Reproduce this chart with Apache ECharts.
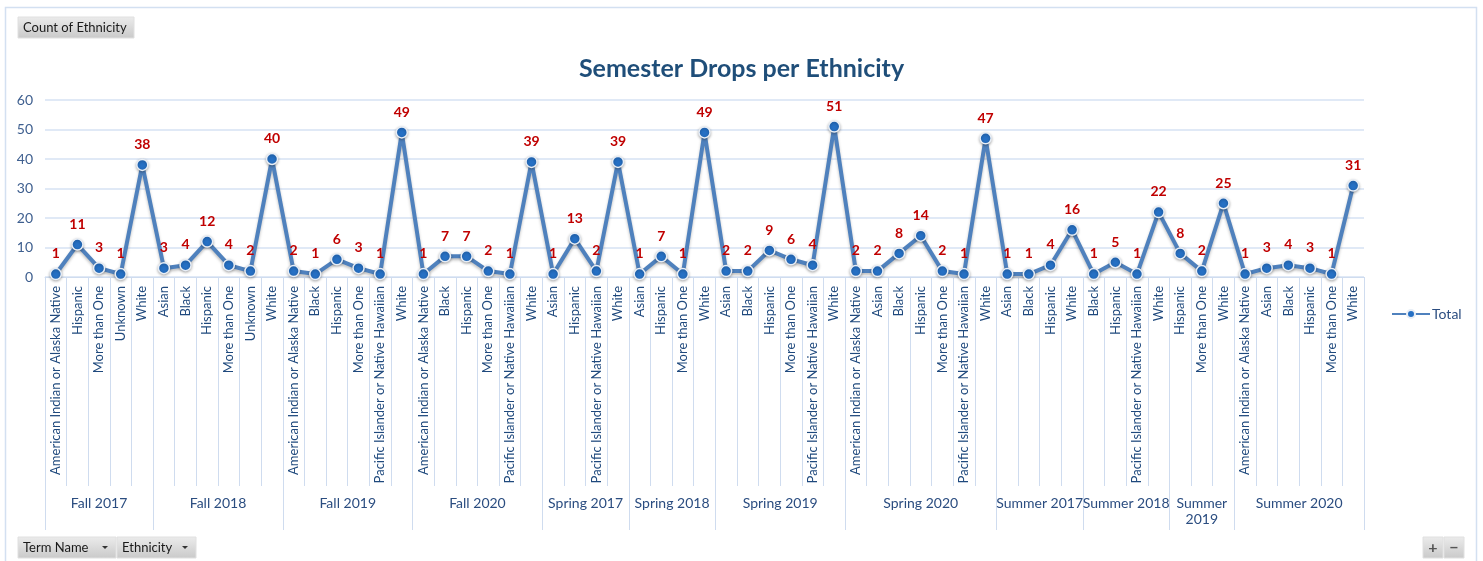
<!DOCTYPE html>
<html>
<head>
<meta charset="utf-8">
<script src="https://cdn.jsdelivr.net/npm/echarts@6/dist/echarts.min.js"></script>
<style>
html,body{margin:0;padding:0;background:#fff;}
#chart{width:1483px;height:561px;}
</style>
</head>
<body>
<div id="chart"></div>
<script>
// term groups along the bottom axis
const termNames = ['Fall 2017', 'Fall 2018', 'Fall 2019', 'Fall 2020', 'Spring 2017', 'Spring 2018',
    'Spring 2019', 'Spring 2020', 'Summer 2017', 'Summer 2018', 'Summer 2019', 'Summer 2020'];
const termSizes = [5, 6, 6, 6, 4, 4, 6, 7, 4, 4, 3, 6];

// ethnicity per point (grouped by term, same order as termNames)
const ethnicityLabels = [
    'American Indian or Alaska Native', 'Hispanic', 'More than One', 'Unknown', 'White',
    'Asian', 'Black', 'Hispanic', 'More than One', 'Unknown', 'White',
    'American Indian or Alaska Native', 'Black', 'Hispanic', 'More than One', 'Pacific Islander or Native Hawaiian', 'White',
    'American Indian or Alaska Native', 'Black', 'Hispanic', 'More than One', 'Pacific Islander or Native Hawaiian', 'White',
    'Asian', 'Hispanic', 'Pacific Islander or Native Hawaiian', 'White',
    'Asian', 'Hispanic', 'More than One', 'White',
    'Asian', 'Black', 'Hispanic', 'More than One', 'Pacific Islander or Native Hawaiian', 'White',
    'American Indian or Alaska Native', 'Asian', 'Black', 'Hispanic', 'More than One', 'Pacific Islander or Native Hawaiian', 'White',
    'Asian', 'Black', 'Hispanic', 'White',
    'Black', 'Hispanic', 'Pacific Islander or Native Hawaiian', 'White',
    'Hispanic', 'More than One', 'White',
    'American Indian or Alaska Native', 'Asian', 'Black', 'Hispanic', 'More than One', 'White'
];
const dropCounts = [
    1, 11, 3, 1, 38,
    3, 4, 12, 4, 2, 40,
    2, 1, 6, 3, 1, 49,
    1, 7, 7, 2, 1, 39,
    1, 13, 2, 39,
    1, 7, 1, 49,
    2, 2, 9, 6, 4, 51,
    2, 2, 8, 14, 2, 1, 47,
    1, 1, 4, 16,
    1, 5, 1, 22,
    8, 2, 25,
    1, 3, 4, 3, 1, 31
];
const yMin = 0, yMax = 60, yStep = 10;

// boundaries and centers of the term groups on a 0..n scale
let bounds = [0], centers = [];
termSizes.forEach(function(n){
    let start = bounds[bounds.length - 1];
    centers.push(start + n / 2);
    bounds.push(start + n);
});

const font = 'Lato, "Liberation Sans", sans-serif';
const sepColor = '#cfdcef';

let chart = echarts.init(document.getElementById('chart'));

function button(x, y, w, label, arrow, size){
    let kids = [{
        type: 'rect',
        shape: {x: 0, y: 0, width: w, height: 21},
        style: {
            fill: new echarts.graphic.LinearGradient(0, 0, 0, 1, [
                {offset: 0, color: '#ececec'}, {offset: 1, color: '#c9c9c9'}
            ]),
            stroke: '#e0e0e0', lineWidth: 1
        }
    }, {
        type: 'text',
        style: {
            x: size ? w / 2 : 5, y: 11, text: label,
            fill: size ? '#555' : '#1a1a1a',
            font: (size ? 'bold ' + size : '13') + 'px ' + font,
            align: size ? 'center' : 'left', verticalAlign: 'middle'
        }
    }];
    if(arrow){
        kids.push({
            type: 'polygon',
            shape: {points: [[w - 14, 9], [w - 8, 9], [w - 11, 12]]},
            style: {fill: '#333'}
        });
    }
    return {type: 'group', x: x, y: y, children: kids};
}

let options = {
    animation: false,
    title: {
        text: 'Semester Drops per Ethnicity',
        left: 'center',
        top: 51,
        textStyle: {fontFamily: font, fontSize: 25, fontWeight: 'bold', color: '#1f4e79'}
    },
    legend: {
        left: 1386,
        top: 302,
        itemWidth: 38,
        itemHeight: 10,
        itemGap: 2,
        textStyle: {fontFamily: font, fontSize: 14, color: '#2b4d80', padding: [0, 0, 0, -3]},
        data: ['Total']
    },
    grid: {left: 45, right: 119, top: 100, bottom: 284},
    xAxis: [{
        type: 'category',
        data: ethnicityLabels,
        boundaryGap: true,
        axisLine: {show: true, lineStyle: {color: sepColor, width: 1}},
        axisTick: {show: true, interval: 0, length: 209, lineStyle: {color: sepColor}},
        axisLabel: {
            interval: 0, rotate: 90, margin: 9,
            fontFamily: font, fontSize: 13, color: '#1f497d'
        }
    }, {
        type: 'value',
        min: 0,
        max: ethnicityLabels.length,
        position: 'bottom',
        offset: 209,
        axisLine: {show: false},
        splitLine: {show: false},
        axisTick: {show: true, length: 44, customValues: bounds, lineStyle: {color: sepColor}},
        axisLabel: {
            customValues: centers,
            margin: 9,
            fontFamily: font, fontSize: 14, color: '#2b4d80', lineHeight: 16,
            formatter: function(v){
                let i = centers.indexOf(v);
                if(i < 0) return '';
                return termSizes[i] < 4 ? termNames[i].replace(' ', '\n') : termNames[i];
            }
        }
    }],
    yAxis: {
        type: 'value',
        min: yMin, max: yMax, interval: yStep,
        axisLine: {show: false},
        axisTick: {show: false},
        axisLabel: {fontFamily: font, fontSize: 14, color: '#3e5f8f', margin: 12},
        splitLine: {lineStyle: {color: '#d6e2f3', width: 1.5}}
    },
    series: [{
        name: 'Total',
        type: 'line',
        data: dropCounts,
        symbol: 'circle',
        symbolSize: 11,
        lineStyle: {
            color: '#4f81bd', width: 4,
            shadowColor: 'rgba(0,0,0,0.25)', shadowBlur: 3, shadowOffsetY: 2
        },
        itemStyle: {
            color: '#2670c4', borderColor: '#e8eef6', borderWidth: 1.5,
            shadowColor: 'rgba(0,0,0,0.3)', shadowBlur: 3, shadowOffsetY: 1
        },
        label: {
            show: true, position: 'top', distance: 7,
            fontFamily: font, fontSize: 14, fontWeight: 'bold', color: '#c00000'
        }
    }],
    graphic: [
        {
            type: 'rect',
            shape: {x: 5.5, y: 7.5, width: 1471, height: 580},
            style: {fill: 'none', stroke: '#d3e0f1', lineWidth: 1.5},
            silent: true
        },
        button(18, 17, 116, 'Count of Ethnicity', false),
        button(18, 537, 98, 'Term Name', true),
        button(117, 537, 79, 'Ethnicity', true),
        button(1423, 537, 20, '+', false, 16),
        button(1444, 537, 20, '−', false, 16)
    ]
};
chart.setOption(options);
</script>
</body>
</html>
